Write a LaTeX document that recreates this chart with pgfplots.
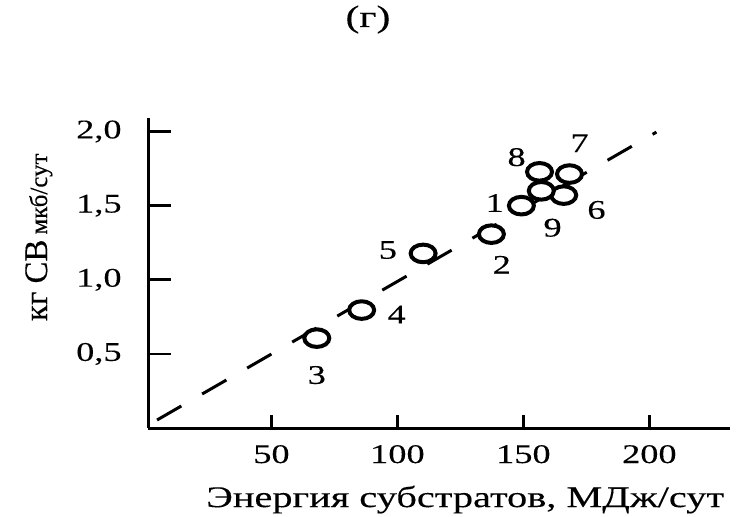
\documentclass[border=0pt]{standalone}
\usepackage{fontspec}
\setmainfont{Liberation Serif}[FakeStretch=1.35, FakeBold=0.25]
\newfontfamily\ylfont{Liberation Serif}[FakeBold=0.25]
\usepackage{pgfplots}
\pgfplotsset{compat=1.18}
\begin{document}
\begin{tikzpicture}
\path[use as bounding box] (0,0) rectangle (368.5bp,258.5bp);
\begin{axis}[
  at={(74bp,44.5bp)}, anchor=south west,
  scale only axis, width=291bp, height=155bp,
  xmin=1, xmax=232, ymin=0, ymax=2.09,
  clip=false,
  axis x line=bottom, axis y line=left,
  axis line style={-, line width=1.5bp, black},
  tick align=inside,
  xtick={50,100,150,200}, ytick={0.5,1,1.5,2},
  minor tick num=0,
  xtick style={line width=1.3bp, black, /pgfplots/major tick length=6.5bp},
  ytick style={line width=1.3bp, black, /pgfplots/major tick length=11.5bp},
  tick label style={font=\fontsize{13.5}{16}\selectfont},
  xticklabel style={anchor=base, yshift=-17.5bp, /pgf/number format/assume math mode=true},
  yticklabel style={anchor=base east, inner sep=0pt, xshift=-13bp, yshift=-3.5bp,
    /pgf/number format/.cd, fixed, fixed zerofill, precision=1, use comma, assume math mode=true},
  title={(г)},
  title style={at={(axis description cs:0.378,1.255)}, anchor=base, font=\fontsize{15.5}{18}\selectfont},
  xlabel={Энергия субстратов, МДж/сут},
  xlabel style={at={(axis description cs:0.545,-0.255)}, anchor=base, font=\fontsize{15}{18}\selectfont},
  ylabel={{\fontsize{16.5}{19}\selectfont кг СВ} {\fontsize{12.5}{15}\selectfont мкб/сут}},
  ylabel style={at={(axis description cs:-0.1735,0.615)}, anchor=base, font=\ylfont},
]
\addplot[black, line width=1.5bp, dash pattern=on 14bp off 12bp] coordinates {(4.6,0.054) (202.8,1.995)};
\addplot[only marks, mark=*, mark size=4.4bp,
  mark options={xscale=1.42, fill=white, draw=black, line width=2bp}] table {
x y
149.2 1.499
137.3 1.307
68.0 0.606
85.8 0.795
110.2 1.177
166.0 1.570
168.3 1.712
156.4 1.727
157.1 1.599
};
\addplot[only marks, mark=*, mark size=0pt, draw=none,
  nodes near coords, point meta=explicit symbolic,
  nodes near coords style={anchor=center, inner sep=0pt, font=\fontsize{13.5}{16}\selectfont}]
  table[meta=lab] {
x y lab
138.6 1.517 1
141.4 1.100 2
68.0 0.357 3
99.7 0.765 4
96.2 1.200 5
179.0 1.470 6
172.3 1.920 7
147.3 1.826 8
161.6 1.350 9
};
\end{axis}
\end{tikzpicture}
\end{document}
